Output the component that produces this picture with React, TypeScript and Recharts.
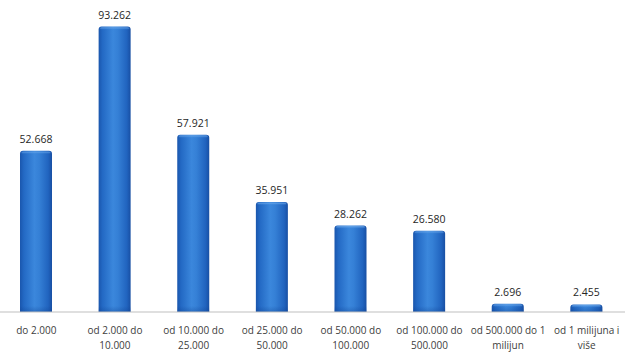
import React from 'react';
import { BarChart, Bar, XAxis, YAxis, LabelList } from 'recharts';

const categories = ['c1', 'c2', 'c3', 'c4', 'c5', 'c6', 'c7', 'c8'];
const values = [52668, 93262, 57921, 35951, 28262, 26580, 2696, 2455];
const tickLine1 = ['do 2.000', 'od 2.000 do', 'od 10.000 do', 'od 25.000 do', 'od 50.000 do', 'od 100.000 do', 'od 500.000 do 1', 'od 1 milijuna i'];
const tickLine2 = ['', '10.000', '25.000', '50.000', '100.000', '500.000', 'milijun', 'više'];

const data = categories.map((c, i) => ({ cat: c, value: values[i], idx: i }));

const fmt = (v: number) => String(v).replace(/\B(?=(\d{3})+(?!\d))/g, '.');

const FONT = '"Open Sans", "Noto Sans", sans-serif';

const CylBar = (props: any) => {
  const { x, y, width, height } = props;
  if (!height || height <= 0) return null;
  const r = Math.min(3, height / 2);
  const d = `M${x},${y + height} L${x},${y + r} Q${x},${y} ${x + r},${y} L${x + width - r},${y} Q${x + width},${y} ${x + width},${y + r} L${x + width},${y + height} Z`;
  const cap = Math.min(4, height);
  return (
    <g>
      <path d={d} fill="url(#barGrad)" />
      <rect x={x + 1.5} y={y + 0.8} width={width - 3} height={cap * 0.6} rx={1.5} fill="url(#capGrad)" opacity={0.8} />
      <rect x={x} y={y + height - Math.min(6, height)} width={width} height={Math.min(6, height)} fill="url(#botGrad)" />
    </g>
  );
};

const Tick = (props: any) => {
  const { x, y, payload } = props;
  const i = payload.index;
  return (
    <g>
      <text x={x} y={y + 14} textAnchor="middle" fontSize={10} fill="#404040" fontFamily={FONT}>
        {tickLine1[i]}
      </text>
      <text x={x} y={y + 29} textAnchor="middle" fontSize={10} fill="#404040" fontFamily={FONT}>
        {tickLine2[i]}
      </text>
    </g>
  );
};

export default function App() {
  return (
    <div style={{ position: 'absolute', left: 0, top: 0, width: 625, height: 353, background: '#fff' }}>
      <BarChart width={625} height={353} data={data} margin={{ top: 6, right: -1, left: -3, bottom: 0 }}>
        <defs>
          <linearGradient id="barGrad" x1="0" y1="0" x2="1" y2="0">
            <stop offset="0%" stopColor="#1a56ad" />
            <stop offset="12%" stopColor="#2369c4" />
            <stop offset="45%" stopColor="#3b87dc" />
            <stop offset="60%" stopColor="#3580d6" />
            <stop offset="88%" stopColor="#2164bf" />
            <stop offset="100%" stopColor="#184fa3" />
          </linearGradient>
          <linearGradient id="capGrad" x1="0" y1="0" x2="0" y2="1">
            <stop offset="0%" stopColor="#7fb6f0" />
            <stop offset="100%" stopColor="#3d8ae0" stopOpacity={0} />
          </linearGradient>
          <linearGradient id="botGrad" x1="0" y1="0" x2="0" y2="1">
            <stop offset="0%" stopColor="#0d3f8f" stopOpacity={0} />
            <stop offset="100%" stopColor="#0d3f8f" stopOpacity={0.35} />
          </linearGradient>
        </defs>
        <XAxis
          dataKey="cat"
          height={41}
          interval={0}
          tickLine={false}
          axisLine={{ stroke: '#bfbfbf', strokeWidth: 1 }}
          tick={<Tick />}
        />
        <YAxis hide domain={[0, 100000]} />
        <Bar dataKey="value" barSize={32} shape={<CylBar />} isAnimationActive={false}>
          <LabelList
            dataKey="value"
            position="top"
            offset={8}
            formatter={(v: any) => fmt(Number(v))}
            style={{ fontSize: 10.5, fill: '#262626', fontFamily: FONT }}
          />
        </Bar>
      </BarChart>
    </div>
  );
}
